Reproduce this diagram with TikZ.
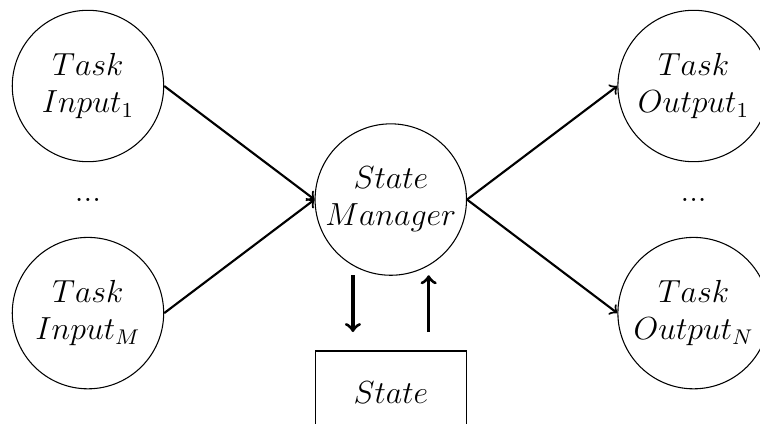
\documentclass[tikz,border=0pt]{standalone}
\begin{document}
\begin{tikzpicture}[
  task/.style={circle, draw, thin, minimum size=2cm, inner sep=0pt, align=center, font=\large},
  store/.style={rectangle, draw, thin, minimum width=2cm, minimum height=1.1cm, inner sep=0pt, font=\large},
  flow/.style={->, thick},
  sync/.style={->, very thick}
]
\useasboundingbox (-1.162,-1.452) rectangle (8.877,4.136);

% inputs
\node[task] (in1) at (0,3) {$Task$\\$Input_1$};
\node[font=\large] (indots) at (0,1.5) {...};
\node[task] (inM) at (0,0) {$Task$\\$Input_M$};

% manager
\node[task] (mgr) at (4,1.5) {$State$\\$Manager$};

% outputs
\node[task] (out1) at (8,3) {$Task$\\$Output_1$};
\node[font=\large] (outdots) at (8,1.5) {...};
\node[task] (outN) at (8,0) {$Task$\\$Output_N$};

% state store
\node[store] (state) at (4,-1.05) {$State$};

% connectors
\draw[flow] (in1.east) -- (mgr.west);
\draw[flow] (inM.east) -- (mgr.west);
\draw[flow] (mgr.east) -- (out1.west);
\draw[flow] (mgr.east) -- (outN.west);

\coordinate (dtop) at (3.5,0.5);
\coordinate (dbot) at (3.5,-0.25);
\coordinate (utop) at (4.5,0.5);
\coordinate (ubot) at (4.5,-0.25);
\draw[sync] (dtop) -- (dbot);
\draw[sync] (ubot) -- (utop);
\end{tikzpicture}
\end{document}
